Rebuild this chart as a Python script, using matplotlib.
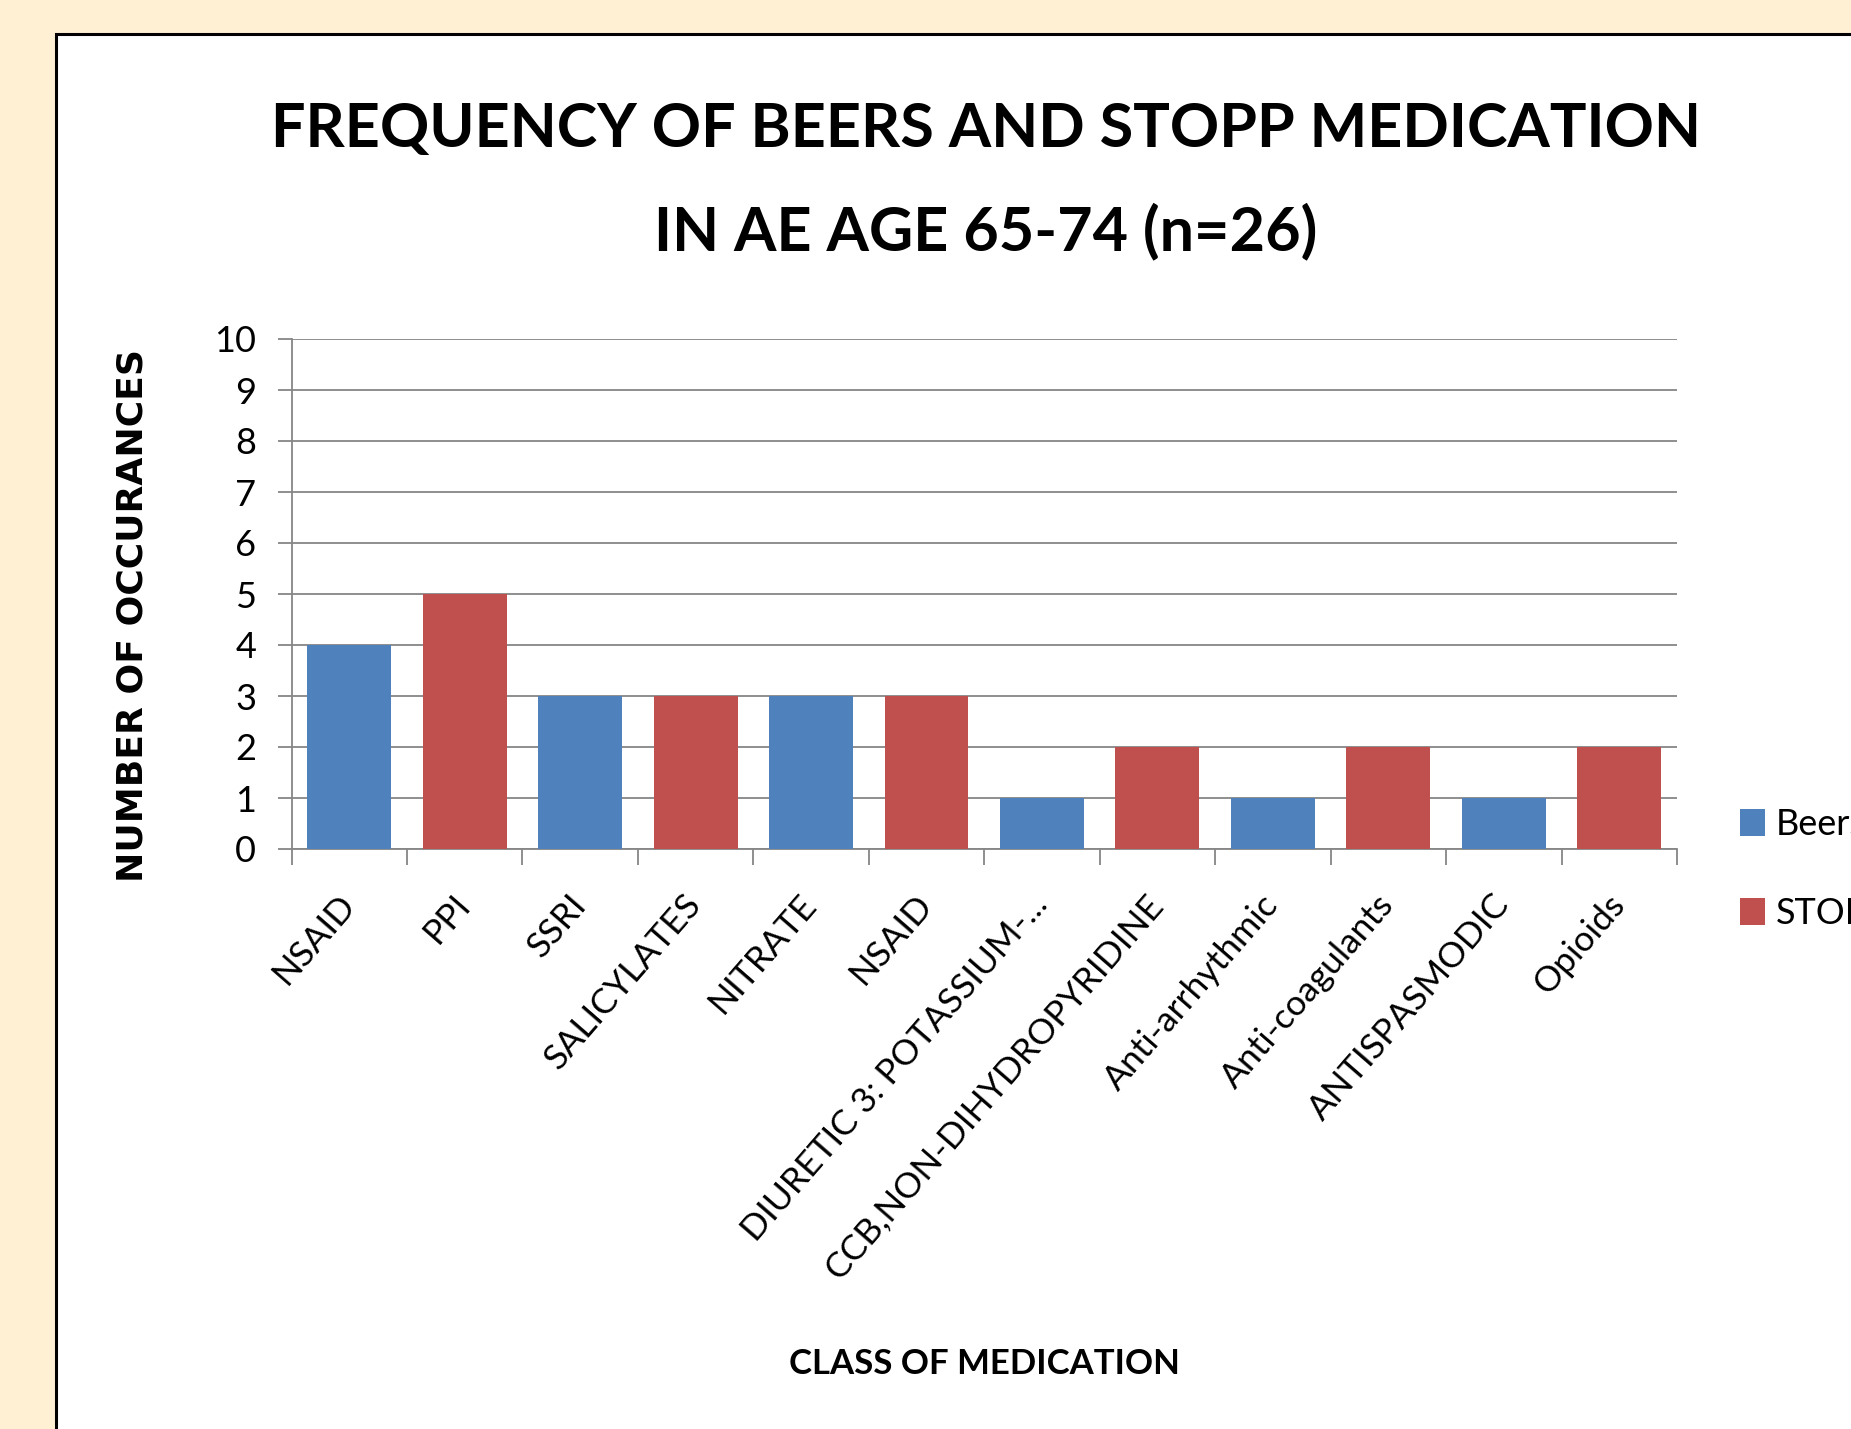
import numpy as np
import matplotlib
matplotlib.use("Agg")
import matplotlib.pyplot as plt
from matplotlib.patches import Rectangle, Patch

# --- Values ---
categories = ["NSAID", "PPI", "SSRI", "SALICYLATES", "NITRATE", "NSAID",
              "DIURETIC 3: POTASSIUM-...", "CCB,NON-DIHYDROPYRIDINE",
              "Anti-arrhythmic", "Anti-coagulants", "ANTISPASMODIC", "Opioids"]
counts = [4, 5, 3, 3, 3, 3, 1, 2, 1, 2, 1, 2]
criteria = ["Beers", "STOPP", "Beers", "STOPP", "Beers", "STOPP",
            "Beers", "STOPP", "Beers", "STOPP", "Beers", "STOPP"]
series_names = ["Beers", "STOPP"]
series_colors = {"Beers": "#4F81BD", "STOPP": "#C0504D"}
yticks = list(range(0, 11))

title_lines = ["FREQUENCY OF BEERS AND STOPP MEDICATION", "IN AE AGE 65-74 (n=26)"]

# --- Figure, slide background and white chart panel ---
W, H, DPI = 1851, 1429, 100
fig = plt.figure(figsize=(W / DPI, H / DPI), dpi=DPI, facecolor="#FFF0D4")
fig.patches.append(Rectangle((55.5 / W, -0.05), 1.1, 1 - 34 / H + 0.05,
                             transform=fig.transFigure, facecolor="white",
                             edgecolor="black", lw=2.2, zorder=-5))

grid_col = "#868686"
font = ["Lato", "DejaVu Sans"]

ax = fig.add_axes([291.5 / W, 1 - 849 / H, (1677 - 291.5) / W, (849 - 339) / H])
ax.set_facecolor("white")

x = np.arange(len(categories))
ax.bar(x, counts, width=0.727, color=[series_colors[c] for c in criteria], zorder=3)

ax.set_xlim(-0.5, len(categories) - 0.5)
ax.set_ylim(0, 10)
ax.set_yticks(yticks)
ax.yaxis.grid(True, color=grid_col, lw=1.3)
ax.set_axisbelow(True)
for s in ["top", "right"]:
    ax.spines[s].set_visible(False)
for s in ["left", "bottom"]:
    ax.spines[s].set_color(grid_col)
    ax.spines[s].set_linewidth(1.3)

ax.tick_params(axis="y", length=10.4, width=1.3, color=grid_col, pad=15, labelsize=26)
for lab in ax.get_yticklabels():
    lab.set_family(font)

ax.set_xticks(x, categories)
ax.set_xticks(np.arange(-0.5, len(categories)), minor=True)
ax.tick_params(axis="x", which="major", length=0, pad=36)
ax.tick_params(axis="x", which="minor", length=11.5, width=1.3, color=grid_col)
for lab in ax.get_xticklabels():
    lab.set_family(font)
    lab.set_fontsize(25.5)
    lab.set_rotation(49)
    lab.set_ha("right")
    lab.set_va("center")
    lab.set_rotation_mode("anchor")

ax.set_xlabel("CLASS OF MEDICATION", family=font, fontweight="bold",
              fontsize=25, va="center")
ax.xaxis.set_label_coords(0.4998, -1.0098)
ax.set_ylabel("NUMBER OF OCCURANCES", family="DejaVu Sans", fontweight="bold",
              fontsize=26, va="center")
ax.yaxis.set_label_coords(-0.1145, 0.4588)

# --- Title (two lines) ---
for line, base in zip(title_lines, [147, 250]):
    fig.text(986 / W, 1 - base / H, line, ha="center", va="baseline",
             family=font, fontweight="bold", fontsize=44)

# --- Legend ---
handles = [Patch(facecolor=series_colors[n], label=n) for n in series_names]
leg = fig.legend(handles=handles, loc="upper left", bbox_to_anchor=(1740 / W, 1 - 808 / H),
                 frameon=False, fontsize=26, handlelength=0.68, handleheight=0.8,
                 handletextpad=0.3, labelspacing=1.55, borderaxespad=0, borderpad=0)
for t in leg.get_texts():
    t.set_family(font)

fig.savefig("out.png", dpi=DPI, facecolor=fig.get_facecolor())
